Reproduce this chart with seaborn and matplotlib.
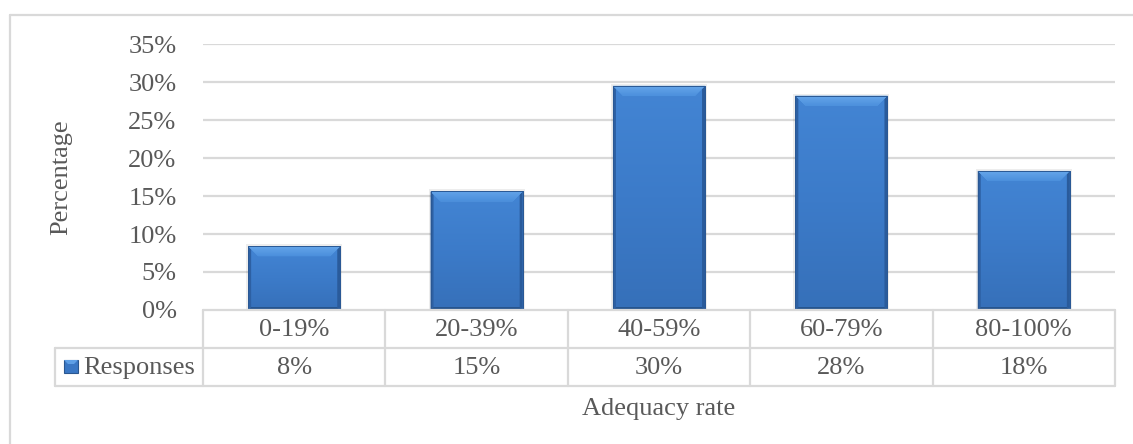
import numpy as np
import pandas as pd
import matplotlib
matplotlib.use("Agg")
import matplotlib.pyplot as plt
import matplotlib.transforms as mtransforms
from matplotlib.patches import Polygon, Rectangle
from matplotlib.lines import Line2D
from matplotlib.colors import LinearSegmentedColormap
import seaborn as sns

# ---- data ----
categories = ["0-19%", "20-39%", "40-59%", "60-79%", "80-100%"]
responses = [0.084, 0.156, 0.295, 0.282, 0.183]
table_labels = ["8%", "15%", "30%", "28%", "18%"]
series_name = "Responses"
y_ticks = [0, 0.05, 0.10, 0.15, 0.20, 0.25, 0.30, 0.35]
y_label = "Percentage"
x_label = "Adequacy rate"

df = pd.DataFrame({"cat": categories, "val": responses})

sns.set_theme(style="white")
plt.rcParams["font.family"] = ["Liberation Serif", "DejaVu Serif"]

W, H = 1133, 444
fig = plt.figure(figsize=(W / 100, H / 100), dpi=100)

def fx(px):
    return px / W

def fy(py):
    return 1 - py / H

left_px, right_px, top_px, bot_px = 203, 1115, 44, 310
ax = fig.add_axes([fx(left_px), fy(bot_px), fx(right_px - left_px), (bot_px - top_px) / H])

grid_c = "#d9d9d9"
text_c = "#595959"
fs = 19

sns.barplot(data=df, x="cat", y="val", color="#3d7ccb", width=0.505,
            edgecolor="none", linewidth=0, ax=ax, zorder=3)

ax.set_xlim(-0.5, len(categories) - 0.5)
ax.set_ylim(0, 0.35)
ax.set_yticks(y_ticks)
ax.set_yticklabels([f"{int(round(t * 100))}%" for t in y_ticks], color=text_c, fontsize=fs)
ax.tick_params(axis="y", length=0, pad=19)
ax.set_xticks([])
ax.set_xlabel("")
ax.set_ylabel("")
for s in ax.spines.values():
    s.set_visible(False)
for t in y_ticks[1:]:
    ax.axhline(t, color=grid_c, lw=1.6, zorder=1)

# ---- bar shading (gradient + bevel) ----
xpp = (len(categories)) / (right_px - left_px)  # data x per pixel
ypp = 0.35 / (bot_px - top_px)                   # data y per pixel
body_cmap = LinearSegmentedColormap.from_list("b", ["#3670b9", "#3c7bc9", "#4385d4"])
top_cmap = LinearSegmentedColormap.from_list("t", ["#4b8fdc", "#66a6ea"])
for p in list(ax.patches):
    x0, y0 = p.get_x(), p.get_y()
    w, h = p.get_width(), p.get_height()
    x1, y1 = x0 + w, y0 + h
    # soft shadow
    ax.add_patch(Rectangle((x0 - 2 * xpp, y0), w + 4 * xpp, h + 2 * ypp,
                           facecolor="#000000", alpha=0.07, edgecolor="none", zorder=2))
    grad = np.linspace(0, 1, 256).reshape(-1, 1)
    im = ax.imshow(grad, cmap=body_cmap, aspect="auto", extent=(x0, x1, y0, y1),
                   origin="lower", zorder=3.5)
    im.set_clip_path(p)
    sx, sy = 3 * xpp, 3 * ypp
    tx, ty = 10 * xpp, 10 * ypp
    # left / right bevel (thin, dark)
    ax.add_patch(Polygon([(x0, y0), (x0, y1), (x0 + sx, y1 - sy), (x0 + sx, y0 + sy)],
                         closed=True, facecolor="#2d60a3", edgecolor="none", zorder=4))
    ax.add_patch(Polygon([(x1, y0), (x1, y1), (x1 - sx, y1 - sy), (x1 - sx, y0 + sy)],
                         closed=True, facecolor="#2a5b9b", edgecolor="none", zorder=4))
    # bottom bevel (dark)
    ax.add_patch(Polygon([(x0, y0), (x1, y0), (x1 - sx, y0 + sy), (x0 + sx, y0 + sy)],
                         closed=True, facecolor="#27558e", edgecolor="none", zorder=4))
    # top bevel (light gradient)
    tp = Polygon([(x0, y1), (x1, y1), (x1 - tx, y1 - ty), (x0 + tx, y1 - ty)],
                 closed=True, facecolor="#5a9de6", edgecolor="none", zorder=4.2)
    ax.add_patch(tp)
    im2 = ax.imshow(grad, cmap=top_cmap, aspect="auto", extent=(x0, x1, y1 - ty, y1),
                    origin="lower", zorder=4.3)
    im2.set_clip_path(tp)
    ax.add_patch(Rectangle((x0, y0), w, h, facecolor="none", edgecolor="#2a5894",
                           lw=0.7, zorder=4.5))

# ---- data table below ----
row1_top, row1_bot, row2_bot = 310, 348, 386
blend = mtransforms.blended_transform_factory(ax.transData, fig.transFigure)
lw_t = 1.6
fig.add_artist(Line2D([fx(left_px), fx(right_px)], [fy(row1_top)] * 2, color=grid_c, lw=lw_t))
fig.add_artist(Line2D([fx(55), fx(right_px)], [fy(row1_bot)] * 2, color=grid_c, lw=lw_t))
fig.add_artist(Line2D([fx(55), fx(right_px)], [fy(row2_bot)] * 2, color=grid_c, lw=lw_t))
for i in range(len(categories) + 1):
    xb = i - 0.5
    fig.add_artist(Line2D([xb, xb], [fy(row1_top), fy(row2_bot)], color=grid_c, lw=lw_t,
                          transform=blend))
fig.add_artist(Line2D([fx(55), fx(55)], [fy(row1_bot), fy(row2_bot)], color=grid_c, lw=lw_t))

for i, (c, lab) in enumerate(zip(categories, table_labels)):
    fig.text(i, fy((row1_top + row1_bot) / 2 + 1), c, transform=blend, ha="center", va="center",
             fontsize=fs, color=text_c)
    fig.text(i, fy((row1_bot + row2_bot) / 2 + 1), lab, transform=blend, ha="center", va="center",
             fontsize=fs, color=text_c)

# legend key in table
fig.add_artist(Rectangle((fx(64), fy(373)), fx(14), 13 / H, transform=fig.transFigure,
                         facecolor="#3a77c4", edgecolor="#2a5790", lw=0.8))
fig.add_artist(Polygon([(fx(64), fy(360)), (fx(78), fy(360)), (fx(74), fy(364)), (fx(68), fy(364))],
                       closed=True, transform=fig.transFigure, facecolor="#5e9fe6", edgecolor="none"))
fig.text(fx(83), fy((row1_bot + row2_bot) / 2 + 1), series_name, ha="left", va="center",
         fontsize=fs, color=text_c)

# axis titles
fig.text(fx(61), fy(177), y_label, rotation=90, ha="center", va="center", fontsize=fs, color=text_c)
fig.text(fx((left_px + right_px) / 2), fy(409), x_label, ha="center", va="center",
         fontsize=fs, color=text_c)

# outer chart frame (top and left visible)
fig.add_artist(Line2D([fx(10), fx(W)], [fy(15), fy(15)], color=grid_c, lw=1.6))
fig.add_artist(Line2D([fx(10), fx(10)], [fy(15), fy(H)], color=grid_c, lw=1.6))

fig.savefig("out.png", dpi=100, facecolor="white")
